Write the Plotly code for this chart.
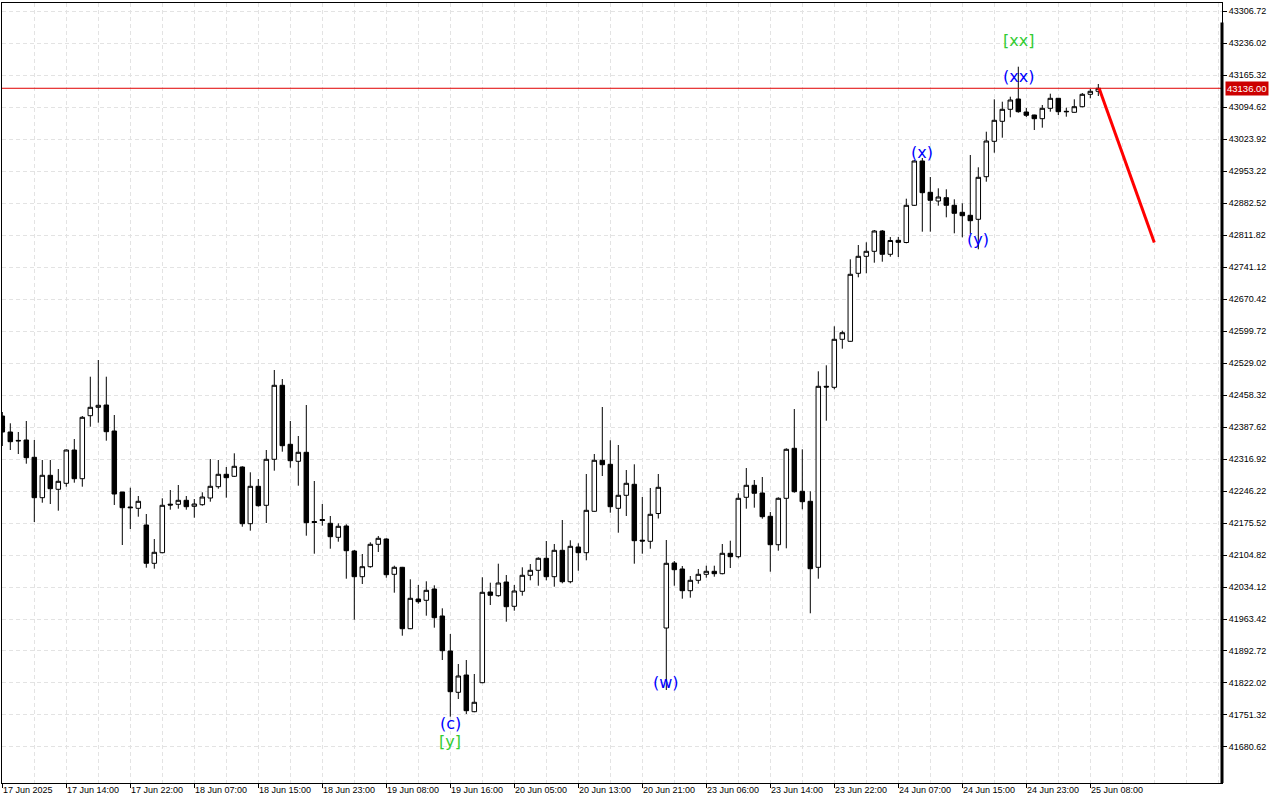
import plotly.graph_objects as go

# ---------------- data (hourly candles, index 0..137) ----------------
opens = [42411.92, 42376.57, 42358.00, 42358.90, 42320.67, 42231.41, 42280.90, 42249.97, 42263.23, 42336.80,
         42273.39, 42412.58, 42431.14, 42436.22, 42378.78, 42244.01, 42210.87, 42207.99, 42171.10, 42086.48,
         42109.90, 42217.05, 42216.83, 42225.67, 42212.41, 42215.95, 42230.75, 42255.72, 42283.11, 42278.69,
         42299.24, 42173.97, 42256.60, 42214.62, 42316.25, 42479.75, 42349.39, 42311.84, 42331.72, 42178.83,
         42183.25, 42174.85, 42143.92, 42168.88, 42113.65, 42056.87, 42078.97, 42128.46, 42140.17, 42062.17,
         42077.63, 41941.99, 42007.60, 42004.73, 42029.70, 41970.05, 41892.72, 41801.47, 41839.69, 41758.61,
         41822.68, 42023.07, 42014.90, 42045.16, 41991.48, 42024.61, 42059.97, 42071.01, 42097.52, 42056.87,
         42115.20, 42045.83, 42122.49, 42109.90, 42201.37, 42314.05, 42305.21, 42207.99, 42236.72, 42261.02,
         42137.52, 42135.09, 42196.51, 41943.53, 42087.14, 42073.89, 42025.94, 42048.90, 42062.17, 42068.80,
         42063.50, 42108.57, 42101.06, 42232.30, 42258.81, 42241.80, 42190.32, 42127.57, 42230.09, 42340.56,
         42245.55, 42223.46, 42077.63, 42477.54, 42475.33, 42581.38, 42576.96, 42727.20, 42764.76, 42775.80,
         42820.65, 42769.18, 42800.11, 42795.25, 42877.43, 42975.31, 42906.16, 42886.94, 42894.23, 42877.43,
         42861.97, 42855.34, 42846.50, 42940.62, 43018.84, 43063.02, 43089.53, 43112.29, 43083.57, 43076.94,
         43068.77, 43091.74, 43113.84, 43085.12, 43082.91, 43095.28, 43122.68, 43129.30]
highs = [42420.76, 42395.79, 42376.57, 42400.87, 42358.90, 42314.71, 42314.71, 42294.82, 42338.35, 42361.10,
         42411.92, 42498.75, 42535.64, 42498.75, 42414.13, 42244.01, 42253.51, 42235.17, 42195.40, 42140.17,
         42230.09, 42248.43, 42259.47, 42235.17, 42228.54, 42243.34, 42316.92, 42314.71, 42299.24, 42329.51,
         42300.79, 42287.53, 42272.73, 42336.80, 42513.55, 42493.67, 42400.87, 42367.73, 42436.22, 42268.31,
         42217.49, 42190.98, 42174.85, 42172.64, 42115.86, 42107.03, 42132.88, 42146.80, 42141.50, 42081.16,
         42078.50, 42051.11, 42038.54, 42046.71, 42037.87, 41987.06, 41930.28, 41863.99, 41872.83, 41841.90,
         42055.55, 42043.62, 42085.60, 42060.63, 42038.54, 42077.63, 42084.93, 42099.74, 42135.75, 42129.12,
         42182.14, 42137.30, 42130.67, 42283.78, 42327.96, 42431.80, 42358.23, 42347.85, 42292.61, 42305.21,
         42232.96, 42252.85, 42283.78, 42137.96, 42091.56, 42080.51, 42058.42, 42073.89, 42081.16, 42081.16,
         42129.12, 42136.41, 42241.14, 42297.03, 42270.52, 42277.15, 42199.82, 42232.30, 42340.56, 42427.39,
         42338.35, 42245.55, 42510.68, 42523.94, 42610.10, 42600.38, 42758.13, 42789.72, 42795.69, 42822.86,
         42822.86, 42807.40, 42807.40, 42892.02, 42977.52, 42981.94, 42939.96, 42914.99, 42912.79, 42890.69,
         42881.85, 42988.57, 42961.39, 43040.05, 43111.63, 43106.33, 43117.37, 43183.65, 43092.41, 43077.50,
         43099.04, 43124.00, 43114.50, 43093.07, 43111.63, 43125.55, 43134.39, 43145.43]
lows = [42345.64, 42336.80, 42327.96, 42306.53, 42177.73, 42220.37, 42217.49, 42202.69, 42255.72, 42264.55,
        42255.72, 42388.28, 42397.12, 42357.35, 42215.29, 42126.91, 42162.26, 42189.43, 42076.76, 42074.55,
        42108.57, 42204.90, 42207.11, 42204.90, 42187.23, 42213.74, 42222.58, 42251.29, 42231.41, 42277.15,
        42167.32, 42158.50, 42211.53, 42175.52, 42291.07, 42333.05, 42297.69, 42257.93, 42147.46, 42107.69,
        42169.55, 42118.74, 42134.20, 42052.43, 41961.87, 42040.75, 42076.76, 42111.45, 42054.66, 42021.52,
        41926.52, 41941.00, 41997.22, 41970.71, 41944.20, 41872.83, 41747.56, 41786.67, 41753.53, 41757.50,
        41821.50, 41994.35, 42012.69, 41957.45, 41981.76, 42014.90, 42048.90, 42036.99, 42048.90, 42034.78,
        42042.29, 42042.29, 42070.13, 42093.11, 42200.50, 42279.36, 42198.27, 42154.09, 42190.98, 42085.60,
        42107.69, 42118.74, 42185.46, 41806.55, 42036.99, 42008.27, 42010.48, 42041.41, 42054.66, 42056.87,
        42062.17, 42076.09, 42097.52, 42207.11, 42209.32, 42185.02, 42067.92, 42114.32, 42119.62, 42242.46,
        42205.78, 41976.01, 42052.43, 42401.53, 42470.91, 42560.61, 42576.00, 42718.36, 42727.20, 42750.62,
        42752.83, 42763.87, 42763.21, 42793.48, 42876.00, 42819.11, 42819.11, 42876.55, 42850.92, 42815.57,
        42806.73, 42814.02, 42780.22, 42929.58, 42993.65, 43026.79, 43071.86, 43082.02, 43072.52, 43043.80,
        43048.88, 43084.23, 43076.94, 43073.19, 43082.02, 43093.95, 43113.84, 43118.92]
closes = [42376.57, 42355.14, 42357.00, 42319.79, 42231.41, 42280.90, 42251.29, 42267.65, 42336.80, 42273.39,
          42409.05, 42431.14, 42435.56, 42377.23, 42239.59, 42209.32, 42209.32, 42223.46, 42086.48, 42110.78,
          42214.62, 42215.29, 42225.67, 42211.53, 42217.49, 42232.96, 42256.60, 42283.11, 42275.60, 42300.79,
          42173.97, 42256.60, 42213.74, 42316.25, 42479.75, 42346.30, 42313.16, 42331.72, 42176.18, 42176.62,
          42181.04, 42145.25, 42168.21, 42114.32, 42056.87, 42078.97, 42128.46, 42141.71, 42061.29, 42077.63,
          41941.99, 42009.15, 42001.64, 42026.82, 41966.29, 41893.38, 41802.80, 41837.48, 41760.82, 41779.38,
          42022.41, 42015.78, 42042.95, 41990.59, 42025.28, 42059.97, 42071.01, 42097.52, 42056.87, 42115.20,
          42045.83, 42124.04, 42109.90, 42203.58, 42314.05, 42304.32, 42211.53, 42236.72, 42263.23, 42136.41,
          42135.75, 42194.74, 42254.39, 42086.48, 42072.34, 42025.94, 42048.90, 42062.17, 42068.80, 42063.50,
          42108.57, 42101.06, 42230.09, 42258.81, 42241.14, 42189.43, 42127.57, 42230.09, 42338.35, 42244.67,
          42222.58, 42074.55, 42477.54, 42475.99, 42581.38, 42595.96, 42724.99, 42764.76, 42775.80, 42820.65,
          42769.18, 42799.67, 42795.69, 42877.43, 42975.31, 42905.27, 42888.48, 42895.77, 42877.43, 42859.76,
          42854.46, 42843.41, 42939.30, 43019.50, 43065.23, 43089.53, 43110.08, 43084.23, 43076.28, 43068.77,
          43091.74, 43113.84, 43084.23, 43084.23, 43095.28, 43122.68, 43129.30, 43136.00]

# time-axis labels (every 8th bar)
label_index = [0, 8, 16, 24, 32, 40, 48, 56, 64, 72, 80, 88, 96, 104, 112, 120, 128, 136]
label_text = ["17 Jun 2025", "17 Jun 14:00", "17 Jun 22:00", "18 Jun 07:00", "18 Jun 15:00",
              "18 Jun 23:00", "19 Jun 08:00", "19 Jun 16:00", "20 Jun 05:00", "20 Jun 13:00",
              "20 Jun 21:00", "23 Jun 06:00", "23 Jun 14:00", "23 Jun 22:00", "24 Jun 07:00",
              "24 Jun 15:00", "24 Jun 23:00", "25 Jun 08:00"]

# price-axis ticks
price_ticks = [41680.62, 41751.32, 41822.02, 41892.72, 41963.42, 42034.12, 42104.82, 42175.52,
               42246.22, 42316.92, 42387.62, 42458.32, 42529.02, 42599.72, 42670.42, 42741.12,
               42811.82, 42882.52, 42953.22, 43023.92, 43094.62, 43165.32, 43236.02, 43306.72]

current_price = 43136.00

# forecast arrow
forecast_x = [137.1, 144.0]
forecast_y = [43136.0, 42795.0]

# wave labels
wave_x = [56, 56, 83, 115, 122, 127, 127]
wave_y = [41733.6, 41691.7, 41824.2, 42993.0, 42800.8, 43163.1, 43242.6]
wave_text = ["(c)", "[y]", "(w)", "(x)", "(y)", "(xx)", "[xx]"]
wave_color = ["#0000ff", "#33cc33", "#0000ff", "#0000ff", "#0000ff", "#0000ff", "#33cc33"]

# ---------------- figure ----------------
idx = list(range(len(opens)))
fig = go.Figure()

fig.add_trace(go.Candlestick(
    x=idx, open=opens, high=highs, low=lows, close=closes,
    increasing=dict(line=dict(color="black", width=1), fillcolor="white"),
    decreasing=dict(line=dict(color="black", width=1), fillcolor="black"),
    whiskerwidth=0, hoverinfo="skip", showlegend=False,
))

fig.add_trace(go.Scatter(
    x=forecast_x, y=forecast_y, mode="lines",
    line=dict(color="#ff0000", width=3), hoverinfo="skip", showlegend=False,
))

GRID = "#e3e3e3"
AXFONT = dict(family="Liberation Sans", size=9, color="black")

fig.update_layout(
    width=1280, height=800,
    margin=dict(l=2, r=58, t=3, b=17, pad=0),
    paper_bgcolor="white", plot_bgcolor="white",
    showlegend=False,
    boxgap=0.3, boxgroupgap=0.2,
    xaxis=dict(
        range=[-0.0375, 152.4625], rangeslider=dict(visible=False),
        tickmode="array", tickvals=label_index, showticklabels=False,
        ticks="outside", ticklen=4, tickcolor="black", tickwidth=1,
        showgrid=False, zeroline=False,
        showline=True, linecolor="black", linewidth=1, mirror=True,
        minor=dict(tickmode="array", tickvals=list(range(0, 153, 4)), showgrid=True,
                   gridcolor=GRID, griddash="4px,3px", gridwidth=1, ticks=""),
    ),
    yaxis=dict(
        side="right", range=[41601.07, 43324.39],
        tickmode="array", tickvals=price_ticks, ticktext=[f"{v:.2f}" for v in price_ticks],
        ticks="outside", ticklen=4, tickcolor="black", tickwidth=1,
        tickfont=AXFONT, showgrid=True, gridcolor=GRID, griddash="4px,3px", gridwidth=1,
        zeroline=False, showline=True, linecolor="black", linewidth=1, mirror=True,
    ),
)

# current price line
fig.add_shape(type="line", xref="paper", yref="y", x0=0, x1=1, y0=current_price, y1=current_price,
              line=dict(color="#e00000", width=1), layer="above")
# thick right border
fig.add_shape(type="line", xref="paper", yref="paper", x0=1, x1=1, y0=0, y1=0.975,
              line=dict(color="black", width=3), layer="above")

# current price tag
fig.add_annotation(xref="paper", yref="y", x=1, y=current_price, xanchor="left", yanchor="middle",
                   xshift=3, text=f"{current_price:.2f}", showarrow=False,
                   font=dict(family="Liberation Sans", size=9.5, color="white"),
                   bgcolor="#cc0000", borderpad=1)

# time labels
for i, t in zip(label_index, label_text):
    fig.add_annotation(xref="x", yref="paper", x=i, y=0, xanchor="left", yanchor="top",
                       xshift=-1, yshift=0, text=t, showarrow=False, font=AXFONT)

# wave labels
for x, y, t, c in zip(wave_x, wave_y, wave_text, wave_color):
    fig.add_annotation(x=x, y=y, text=t, showarrow=False, xanchor="center", yanchor="middle",
                       font=dict(family="DejaVu Sans", size=16, color=c))

fig.write_html("out.html", config={"displayModeBar": False},
               post_script="document.body.style.margin='0px';document.body.style.overflow='hidden';")
